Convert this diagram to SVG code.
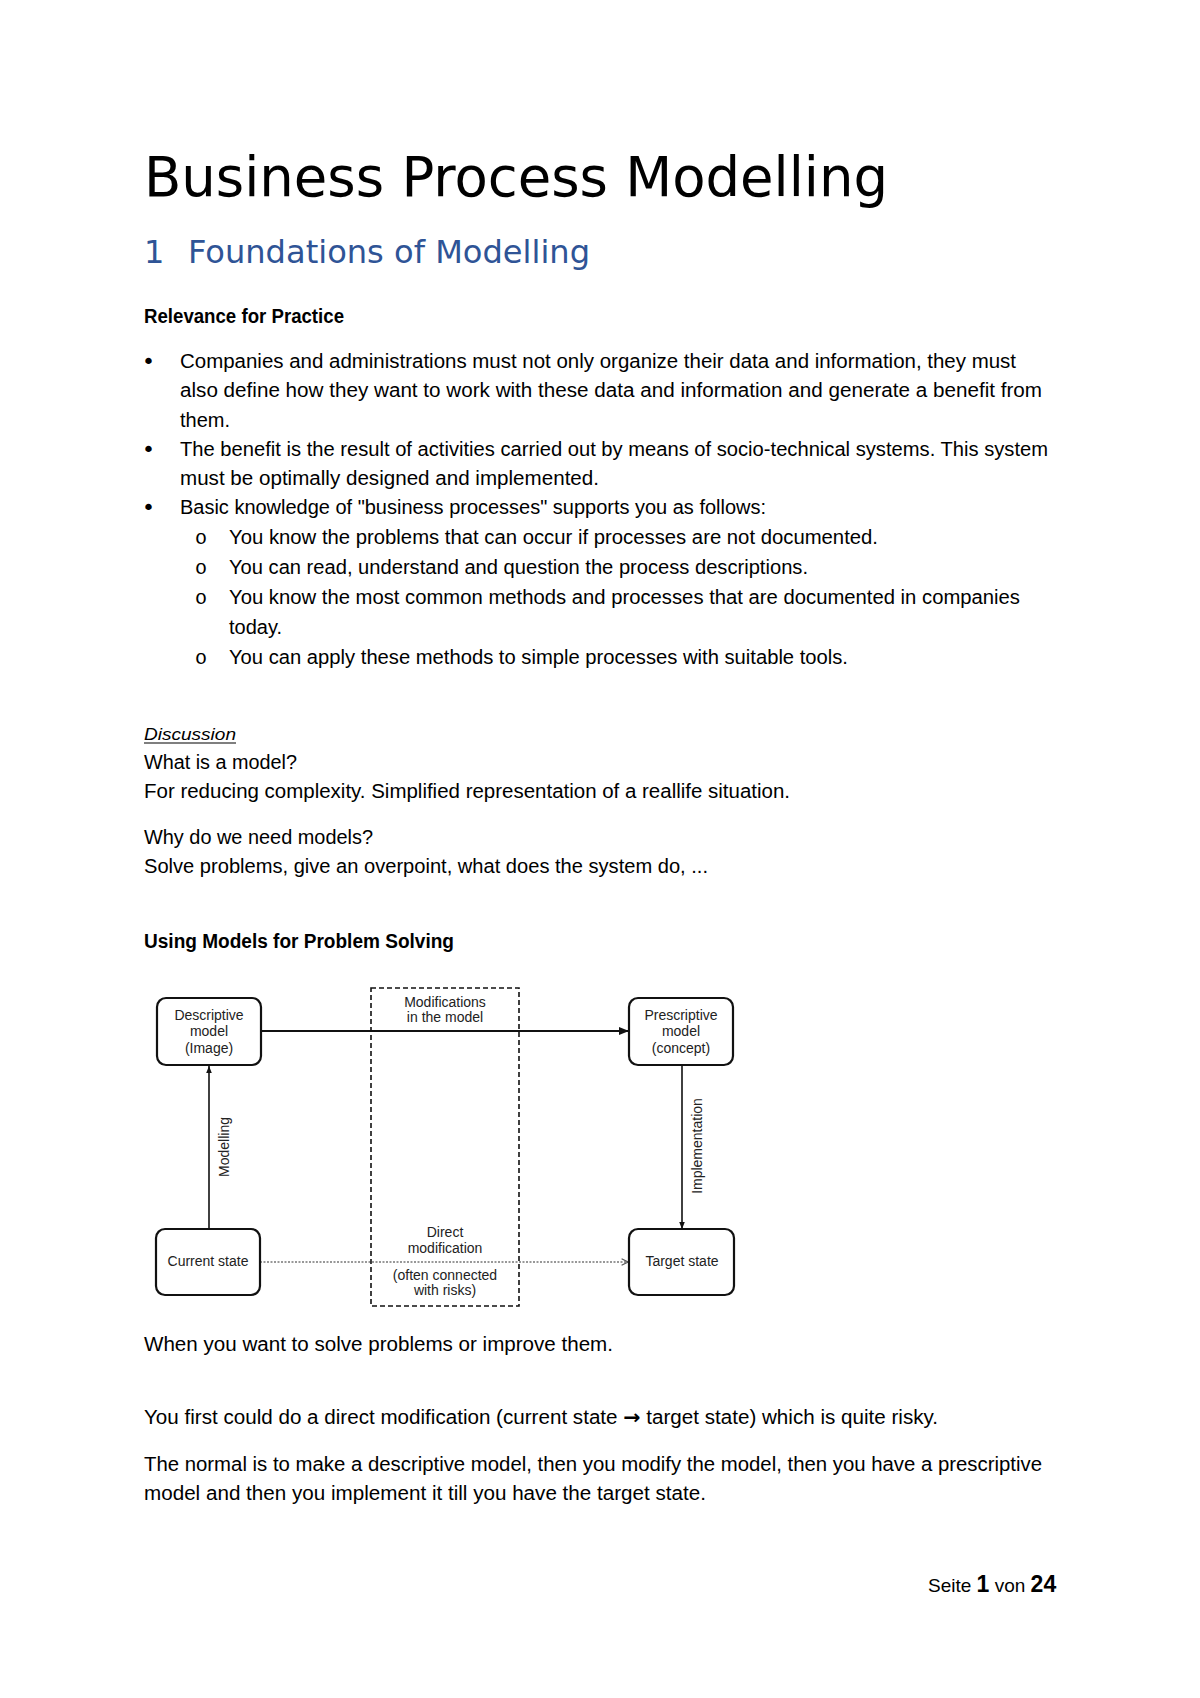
<svg xmlns="http://www.w3.org/2000/svg" width="1200" height="1698" viewBox="0 0 1200 1698">
<defs>
<style>
.body{font-family:"Liberation Sans",Arial,sans-serif;font-size:20px;fill:#000}
.b{font-weight:bold}
.bul{font-family:"DejaVu Sans",sans-serif;font-size:22px;fill:#000}
.sub{font-family:"Liberation Mono","Courier New",monospace;font-size:20px;fill:#000}
.dia{font-family:"Liberation Sans",Arial,sans-serif;font-size:14px;fill:#222;text-anchor:middle}
.node{fill:#fff;stroke:#111;stroke-width:2.2}
.conn{stroke:#111;fill:none}
</style>
<marker id="ah" viewBox="0 0 10 10" refX="10" refY="5" markerWidth="7" markerHeight="7" markerUnits="userSpaceOnUse" orient="auto"><path d="M0,1 L10,5 L0,9 z" fill="#111"/></marker>
<marker id="ahbig" viewBox="0 0 10 10" refX="10" refY="5" markerWidth="12" markerHeight="10" markerUnits="userSpaceOnUse" orient="auto"><path d="M0,1 L10,5 L0,9 z" fill="#111"/></marker>
<marker id="ahopen" viewBox="0 0 10 10" refX="9" refY="5" markerWidth="8" markerHeight="8" markerUnits="userSpaceOnUse" orient="auto"><path d="M1,1 L9,5 L1,9" fill="none" stroke="#555" stroke-width="1.5"/></marker>
</defs>
<rect width="1200" height="1698" fill="#fff"/>

<text x="144" y="196" font-family="DejaVu Sans,sans-serif" font-size="56" textLength="744" lengthAdjust="spacingAndGlyphs">Business Process Modelling</text>
<text x="144" y="263" font-family="DejaVu Sans,sans-serif" font-size="32" fill="#2F5496">1</text>
<text x="188" y="263" font-family="DejaVu Sans,sans-serif" font-size="32" fill="#2F5496" textLength="402" lengthAdjust="spacingAndGlyphs">Foundations of Modelling</text>

<text class="body b" x="144" y="323" textLength="200" lengthAdjust="spacingAndGlyphs">Relevance for Practice</text>

<g class="body">
<text class="bul" x="142" y="369">•</text>
<text x="180" y="368" textLength="836" lengthAdjust="spacingAndGlyphs">Companies and administrations must not only organize their data and information, they must</text>
<text x="180" y="397" textLength="862" lengthAdjust="spacingAndGlyphs">also define how they want to work with these data and information and generate a benefit from</text>
<text x="180" y="427">them.</text>
<text class="bul" x="142" y="457">•</text>
<text x="180" y="456" textLength="868" lengthAdjust="spacingAndGlyphs">The benefit is the result of activities carried out by means of socio-technical systems. This system</text>
<text x="180" y="485" textLength="419" lengthAdjust="spacingAndGlyphs">must be optimally designed and implemented.</text>
<text class="bul" x="142" y="515">•</text>
<text x="180" y="514" textLength="586" lengthAdjust="spacingAndGlyphs">Basic knowledge of "business processes" supports you as follows:</text>
<text class="sub" x="195" y="544">o</text>
<text x="229" y="544" textLength="649" lengthAdjust="spacingAndGlyphs">You know the problems that can occur if processes are not documented.</text>
<text class="sub" x="195" y="574">o</text>
<text x="229" y="574" textLength="579" lengthAdjust="spacingAndGlyphs">You can read, understand and question the process descriptions.</text>
<text class="sub" x="195" y="604">o</text>
<text x="229" y="604" textLength="791" lengthAdjust="spacingAndGlyphs">You know the most common methods and processes that are documented in companies</text>
<text x="229" y="634">today.</text>
<text class="sub" x="195" y="664">o</text>
<text x="229" y="664" textLength="619" lengthAdjust="spacingAndGlyphs">You can apply these methods to simple processes with suitable tools.</text>
</g>

<text x="144" y="740" font-family="Liberation Sans,Arial,sans-serif" font-size="17" font-style="italic" fill="#000" textLength="92" lengthAdjust="spacingAndGlyphs">Discussion</text>
<line x1="144" y1="743" x2="236" y2="743" stroke="#000" stroke-width="1.2"/>
<g class="body">
<text x="144" y="769" textLength="153" lengthAdjust="spacingAndGlyphs">What is a model?</text>
<text x="144" y="798" textLength="646" lengthAdjust="spacingAndGlyphs">For reducing complexity. Simplified representation of a reallife situation.</text>
<text x="144" y="844" textLength="229" lengthAdjust="spacingAndGlyphs">Why do we need models?</text>
<text x="144" y="873" textLength="564" lengthAdjust="spacingAndGlyphs">Solve problems, give an overpoint, what does the system do, ...</text>
</g>
<text class="body b" x="144" y="948" textLength="310" lengthAdjust="spacingAndGlyphs">Using Models for Problem Solving</text>

<g id="diagram">
<g id="connectors">
<line class="conn" x1="261" y1="1031" x2="629" y2="1031" stroke-width="2.2" marker-end="url(#ahbig)"/>
<line class="conn" x1="209" y1="1229" x2="209" y2="1066" stroke-width="1.6" marker-end="url(#ah)"/>
<line class="conn" x1="682" y1="1066" x2="682" y2="1229" stroke-width="1.6" marker-end="url(#ah)"/>
<line x1="260" y1="1262" x2="628" y2="1262" stroke="#777" stroke-width="1.3" stroke-dasharray="2,1.5" marker-end="url(#ahopen)"/>
</g>
<g id="modifications-box">
<rect x="371" y="988" width="148" height="318" fill="none" stroke="#111" stroke-width="1.6" stroke-dasharray="5,3"/>
<text class="dia" x="445" y="1007">Modifications</text>
<text class="dia" x="445" y="1022">in the model</text>
<text class="dia" x="445" y="1237">Direct</text>
<text class="dia" x="445" y="1253">modification</text>
<text class="dia" x="445" y="1280">(often connected</text>
<text class="dia" x="445" y="1295">with risks)</text>
</g>
<g id="descriptive-model">
<rect class="node" x="157" y="998" width="104" height="67" rx="9"/>
<text class="dia" x="209" y="1020">Descriptive</text>
<text class="dia" x="209" y="1036">model</text>
<text class="dia" x="209" y="1053">(Image)</text>
</g>
<g id="prescriptive-model">
<rect class="node" x="629" y="998" width="104" height="67" rx="9"/>
<text class="dia" x="681" y="1020">Prescriptive</text>
<text class="dia" x="681" y="1036">model</text>
<text class="dia" x="681" y="1053">(concept)</text>
</g>
<g id="current-state">
<rect class="node" x="156" y="1229" width="104" height="66" rx="9"/>
<text class="dia" x="208" y="1266">Current state</text>
</g>
<g id="target-state">
<rect class="node" x="629" y="1229" width="105" height="66" rx="9"/>
<text class="dia" x="682" y="1266">Target state</text>
</g>
<text class="dia" transform="translate(229,1147) rotate(-90)">Modelling</text>
<text class="dia" transform="translate(702,1146) rotate(-90)">Implementation</text>
</g>

<g class="body">
<text x="144" y="1351" textLength="469" lengthAdjust="spacingAndGlyphs">When you want to solve problems or improve them.</text>
<text x="144" y="1424" textLength="794" lengthAdjust="spacingAndGlyphs">You first could do a direct modification (current state <tspan font-family="DejaVu Sans,sans-serif" font-weight="bold">→</tspan> target state) which is quite risky.</text>
<text x="144" y="1471" textLength="898" lengthAdjust="spacingAndGlyphs">The normal is to make a descriptive model, then you modify the model, then you have a prescriptive</text>
<text x="144" y="1500" textLength="562" lengthAdjust="spacingAndGlyphs">model and then you implement it till you have the target state.</text>
</g>

<text x="928" y="1592" font-family="Liberation Sans,Arial,sans-serif" font-size="19" fill="#000">Seite <tspan font-weight="bold" font-size="23">1</tspan> von <tspan font-weight="bold" font-size="23">24</tspan></text>
</svg>
